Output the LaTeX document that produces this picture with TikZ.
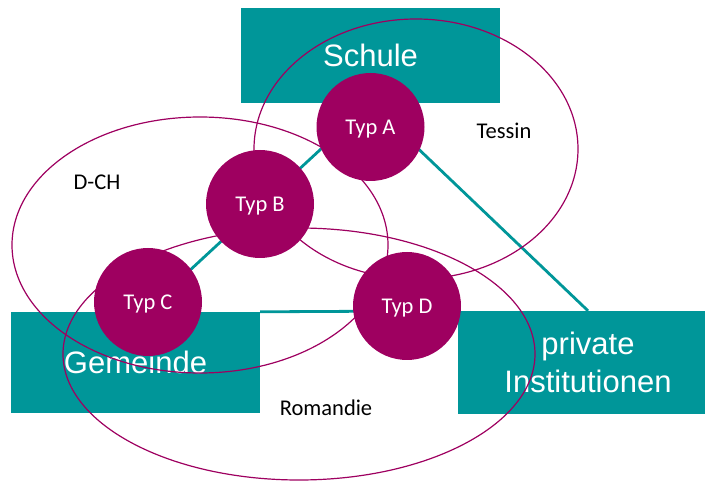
\documentclass[tikz,border=0pt]{standalone}
\usepackage{fontspec}
\setmainfont{Carlito}
\newfontfamily\boxfont{Liberation Sans}
\definecolor{feldteal}{RGB}{0,150,153}
\definecolor{typlila}{RGB}{158,0,96}

\begin{document}
\begin{tikzpicture}[x=1pt,y=-1pt,
	feld/.style={fill=feldteal, text=white, inner sep=0pt, align=center, font=\boxfont\fontsize{31}{38}\selectfont},
	typ/.style={circle, fill=typlila, text=white, minimum size=108pt, inner sep=0pt, text depth=0pt, font=\fontsize{22.5}{27}\selectfont},
	kante/.style={feldteal, line width=2.8pt},
	region/.style={typlila, line width=1.2pt},
	regionname/.style={font=\fontsize{22.5}{27}\selectfont}]
				\useasboundingbox (0,0) rectangle (705,481);
				\clip (0,0) rectangle (705,481);

				\node[feld, minimum width=259pt, minimum height=95pt] (schule) at (370.5,55.5) {Schule};
				\node[feld, minimum width=249pt, minimum height=101pt] (gemeinde) at (135.5,362.5) {Gemeinde};
				\node[feld, minimum width=260pt, minimum height=103pt] (privat) at (588,362.5) {private\\Institutionen};

				\draw[kante] (schule.south) -- ([xshift=9.5pt]gemeinde.north);
				\draw[kante] (gemeinde.north east) -- (privat.north west);
				\draw[kante] (privat.north) -- (schule.south);

				\node[typ] (typA) at (370.5,127) {Typ A};
				\node[typ] (typB) at (260,204) {Typ B};
				\node[typ] (typC) at (148,302) {Typ C};
				\node[typ] (typD) at (407,306) {Typ D};

				\draw[region] (200,245) ellipse [x radius=188, y radius=128];
				\draw[region] (416,149) ellipse [x radius=162, y radius=130];
				\draw[region] (299,354) ellipse [x radius=236, y radius=126];

				\node[regionname] (tessin) at (504,131) {Tessin};
				\node[regionname] (dch) at (97,182) {D-CH};
				\node[regionname] (romandie) at (326,408) {Romandie};
			\end{tikzpicture}
\end{document}
